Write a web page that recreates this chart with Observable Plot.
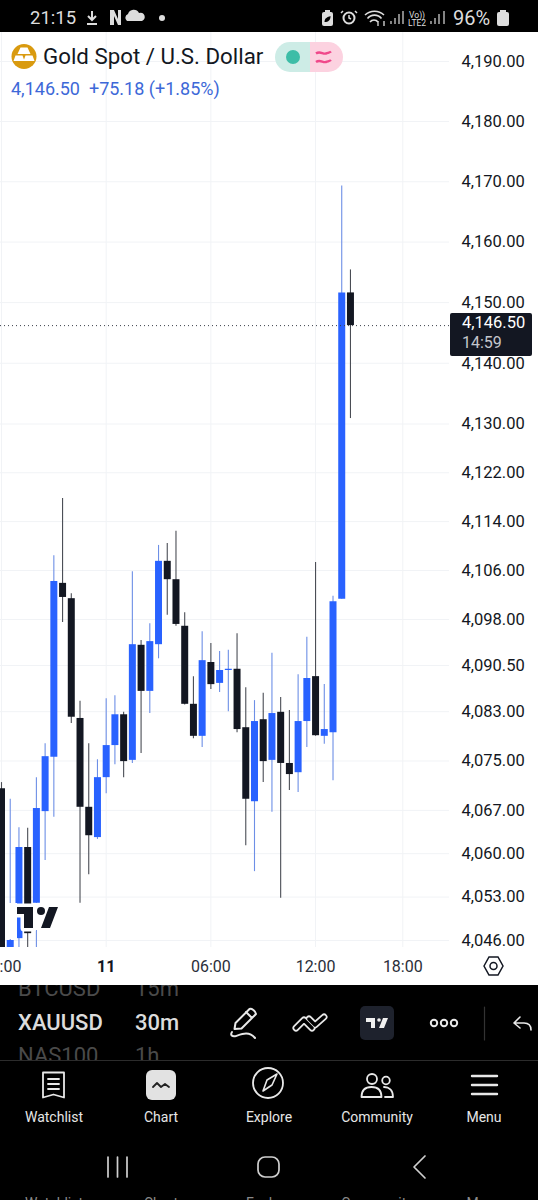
<!DOCTYPE html>
<html>
<head>
<meta charset="utf-8">
<script src="https://cdn.jsdelivr.net/npm/d3@7"></script>
<script src="https://cdn.jsdelivr.net/npm/@observablehq/plot@0.6"></script>
<style>
html,body{margin:0;padding:0;background:#fff;font-family:Roboto,sans-serif}
#page{position:relative;width:538px;height:1200px;overflow:hidden;background:#fff}
.abs{position:absolute;white-space:nowrap}
#status{left:0;top:0;width:538px;height:32px;background:#000;color:#ddd}
#footer{left:0;top:985px;width:538px;height:215px;background:#000;overflow:hidden}
#chart{position:absolute;left:0;top:32px}
#chart svg{display:block}
.nav{top:122px;transform:translateX(-50%);font-size:14px;line-height:20px;font-weight:400;color:#e6e6e6}
.ghost{top:208px;transform:translateX(-50%);font-size:14px;line-height:20px;color:#8a8a8a}
.dim{font-size:22px;line-height:26px;color:#4a4a4a}
.sel{top:25px;font-size:22px;line-height:26px;font-weight:500;color:#dcdcdc}
</style>
</head>
<body>
<div id="page">
  <div id="chart"></div>

  <div class="abs" id="status">
    <span class="abs" style="left:30px;top:7px;font-size:18.5px;line-height:22px">21:15</span>
    <span class="abs" style="left:453px;top:6px;font-size:20px;line-height:24px">96%</span>
    <svg class="abs" style="left:0;top:0" width="538" height="32" viewBox="0 0 538 32" fill="#ddd" stroke="none">
      <path d="M92 11v8M88 16l4 4 4-4M87 24h10" stroke="#ddd" stroke-width="2" fill="none"/>
      <path d="M110 10h4l4 9V10h3v15h-3l-4-9v9h-4z"/>
      <path d="M127 22a4 4 0 0 1 1-7 6 6 0 0 1 11-1 4 4 0 0 1 3 8z" transform="translate(0,-1)"/>
      <circle cx="162" cy="18" r="3"/>
      <rect x="322" y="12" width="11" height="14" rx="2"/><rect x="325" y="10" width="5" height="3"/>
      <path d="M324.500 22c0-4 3-5 6-6 0 4-2 6-6 6z" fill="#000"/>
      <circle cx="349" cy="18" r="5.500" fill="none" stroke="#ddd" stroke-width="2"/><path d="M343 11l-2 2M355 11l2 2M349 15v3l2 1" stroke="#ddd" fill="none" stroke-width="1.500"/>
      <path d="M365 15a14 14 0 0 1 19 0M367.500 18.500a9 9 0 0 1 14 0M370 22a5 5 0 0 1 8 0" fill="none" stroke="#ddd" stroke-width="1.600"/>
      <path d="M378 26v-5M384 26v-5" fill="none" stroke="#ddd" stroke-width="1.300"/>
      <path d="M391 24v-3M395 24v-6M399 24v-10M403 24v-13" stroke="#bbb" stroke-width="1.400" fill="none"/>
      <path d="M431 24v-3M435 24v-6M439 24v-10M444 24v-13" stroke="#bbb" stroke-width="1.400" fill="none"/>
      <rect x="497" y="12" width="12" height="14" rx="2"/><rect x="500" y="10" width="6" height="3"/>
    </svg>
    <span class="abs" style="left:408px;top:11px;font-size:8.500px;line-height:8px;text-align:center">Vo))<br>LTE2</span>
  </div>

  <svg class="abs" style="left:0;top:0;pointer-events:none" width="538" height="985" viewBox="0 0 538 985">
    <circle cx="24" cy="56.500" r="12.500" fill="#d99a0f"/>
    <path d="M20.500 47.500h7l3 6.500h-13zM15.500 55.500h7l2 5.500H13.500zM25.500 55.500h7l2 5.500H23.500z" fill="#fff"/>
    <path d="M290 42a15 15 0 0 0 0 30h20V42z" fill="#cdece6"/>
    <path d="M310 42h18a15 15 0 0 1 0 30h-18z" fill="#fcd2e0"/>
    <circle cx="293" cy="57" r="7" fill="#3dbda7"/>
    <path d="M316 53.500c4-3 7 1 10 0s4-1 5-2M316 62c4-3 7 1 10 0s4-1 5-2" fill="none" stroke="#f0488a" stroke-width="2.400"/>
    <!-- watermark -->
    <rect x="8" y="903" width="9" height="36" fill="#fff"/>
    <rect x="33" y="903" width="7" height="27" fill="#fff"/>
    <g stroke="#fff" stroke-width="7" stroke-linejoin="round" fill="#fff">
      <path d="M17 907H33V928H24V914H17z"/>
      <circle cx="41" cy="911" r="4"/>
      <path d="M49 907H58L50 928H41z"/>
    </g>
    <path d="M17 907H33V928H24V914H17z M49 907H58L50 928H41z" fill="#131722"/>
    <circle cx="41" cy="911" r="4" fill="#131722"/>
    <!-- settings hexagon -->
    <path d="M484 966l5-9h9l5 9-5 9h-9z" fill="none" stroke="#131722" stroke-width="1.500"/>
    <circle cx="493.500" cy="966" r="3.500" fill="none" stroke="#131722" stroke-width="1.500"/>
  </svg>

  <div class="abs" style="left:43px;top:41px;font-size:22.300px;line-height:30px;color:#131722">Gold Spot / U.S. Dollar</div>
  <div class="abs" style="left:11px;top:78px;font-size:18px;line-height:22px;color:#3d68d8">4,146.50&nbsp;&nbsp;+75.18 (+1.85%)</div>

  <div class="abs" id="tag" style="left:450px;width:82px;height:43px;background:#131722;border-radius:2px;color:#fff">
    <div class="abs" style="left:12px;top:0;font-size:16.500px;line-height:20px" id="tagPrice">4,146.50</div>
    <div class="abs" style="left:12px;top:20px;font-size:16px;line-height:20px;color:#c4c6cc">14:59</div>
  </div>

  <div class="abs" id="footer">
    <span class="abs dim" style="left:18px;top:-9px">BTCUSD</span>
    <span class="abs dim" style="left:135px;top:-9px">15m</span>
    <span class="abs sel" style="left:18px">XAUUSD</span>
    <span class="abs sel" style="left:135px">30m</span>
    <div class="abs" style="left:0;top:0;width:538px;height:75px;overflow:hidden">
      <span class="abs dim" style="left:18px;top:58px">NAS100</span>
      <span class="abs dim" style="left:135px;top:58px">1h</span>
    </div>
    <svg class="abs" style="left:0;top:0" width="538" height="215" viewBox="0 985 538 215" fill="none" stroke="#e8e8e8" stroke-width="2" stroke-linecap="round" stroke-linejoin="round">
      <path d="M0 1060.500H538" stroke="#2c2c2c" stroke-width="1.200"/>
      <path d="M234.500 1029l1-6 14-14c2-1 6 2 6.500 5l-14.500 14.500zM246 1012l6 6"/>
      <path d="M232 1032c-2 3 0 5 4 4 6-2 13-5 19 2"/>
      <g stroke-width="7" stroke-linecap="round"><path d="M296 1028l8-8 8 8M309 1019l6 6 9-8"/></g>
      <g stroke="#000" stroke-width="3.400" stroke-linecap="round"><path d="M296 1028l8-8 8 8M309 1019l6 6 9-8"/></g>
      <rect x="360" y="1006" width="34" height="34" rx="5" fill="#1e222d" stroke="none"/>
      <path d="M366 1018h9v10h-4v-6h-5zM383 1018h5l-4 10h-5z" fill="#f0f0f0" stroke="none"/><circle cx="379" cy="1020" r="1.800" fill="#f0f0f0" stroke="none"/>
      <circle cx="434" cy="1023" r="3.200"/><circle cx="444" cy="1023" r="3.200"/><circle cx="454" cy="1023" r="3.200"/>
      <path d="M484.500 1007v33" stroke="#333" stroke-width="1.200"/>
      <path d="M520 1017l-6 6h10c5 0 7 3 7 7M514 1023l6 5" stroke-width="1.600"/>

      <path d="M43 1072.500h21v25l-10.500-3-10.500 3zM48 1079h11M48 1084h11M48 1089h11" stroke-width="1.800"/>
      <rect x="146" y="1070" width="30" height="30" rx="6" fill="#e2e2e2" stroke="none"/>
      <path d="M153 1087l4-4 4 4 4-3 4 3" stroke="#222" stroke-width="1.800"/>
      <circle cx="268" cy="1083" r="15" stroke-width="1.800"/>
      <path d="M277 1074l-5 11-9 6 4-11z" stroke-width="1.600"/>
      <circle cx="372" cy="1079" r="5" stroke-width="1.800"/><circle cx="386" cy="1080.500" r="3.800" stroke-width="1.800"/>
      <path d="M361.500 1097c0-7 4-10 10-10s10 3 10 10zM384 1087c5 0 9 3 9 10h-8" stroke-width="1.800"/>
      <path d="M472 1076h25M472 1085h25M472 1094h25" stroke-width="2.400"/>

      <path d="M108 1157v20M117.500 1157v20M127 1157v20" stroke="#cfcfcf" stroke-width="1.700"/>
      <rect x="258" y="1157" width="21" height="20" rx="7" stroke="#cfcfcf" stroke-width="1.700"/>
      <path d="M425 1156l-11 11 11 11" stroke="#cfcfcf" stroke-width="1.700"/>
    </svg>
    <span class="abs nav" style="left:54px">Watchlist</span>
    <span class="abs nav" style="left:161px">Chart</span>
    <span class="abs nav" style="left:269px">Explore</span>
    <span class="abs nav" style="left:377px">Community</span>
    <span class="abs nav" style="left:484px">Menu</span>
    <span class="abs ghost" style="left:54px">Watchlist</span>
    <span class="abs ghost" style="left:161px">Chart</span>
    <span class="abs ghost" style="left:269px">Explore</span>
    <span class="abs ghost" style="left:377px">Community</span>
    <span class="abs ghost" style="left:484px">Menu</span>
  </div>
</div>

<script>
// 30-minute XAU/USD candles, oldest first
const opens = [4070.5,4044,4046.3,4061.0,4052.0,4066.8,4075.6,4103.9,4101.4,4081.9,4067.5,4062.6,4072.3,4077.5,4082.5,4075.1,4093.8,4086.3,4093.9,4107.5,4104.5,4096.9,4084.2,4079.0,4091.0,4087.6,4089.7,4089.9,4080.4,4068.4,4081.7,4075.1,4082.9,4074.6,4073.1,4081.4,4088.7,4079.0,4079.6,4101.3,4151.6];
const closes = [4043,4046.0,4061.0,4047.1,4067.3,4075.7,4104.2,4101.6,4082.1,4067.5,4062.9,4072.3,4077.5,4082.5,4074.9,4093.9,4086.3,4094.4,4107.5,4104.5,4097.2,4084.2,4079.0,4091.3,4087.4,4089.7,4089.9,4080.1,4068.8,4081.4,4074.9,4082.7,4074.6,4072.8,4081.4,4088.4,4079.1,4080.1,4100.9,4151.6,4146.2];
const highs = [4071.5,4068.8,4064.2,4064.1,4072.3,4077.8,4108.4,4117.8,4102.2,4084.7,4077.8,4075.2,4085.1,4085.6,4082.9,4105.8,4094.6,4097.3,4110.1,4110.4,4112.4,4099.1,4088.7,4096.0,4094.1,4092.8,4093.0,4095.7,4086.9,4084.8,4086.0,4092.5,4085.3,4083.2,4089.0,4095.1,4107.3,4087.4,4101.8,4169.3,4155.4];
const lows = [4042.5,4043,4044,4044,4044,4058.9,4065.9,4097.5,4081.1,4052.0,4056.6,4062.3,4069.7,4074.4,4072.3,4074.6,4076.2,4082.7,4091.6,4098.7,4096.9,4084.1,4078.6,4077.2,4086.6,4086.1,4083.0,4079.6,4061.3,4057.1,4071.5,4066.7,4052.8,4070.2,4069.9,4077.2,4079.0,4077.7,4071.8,4101.3,4130.9];

const priceTicks = [4190,4180,4170,4160,4150,4140,4130,4122,4114,4106,4098,4090.5,4083,4075,4067,4060,4053,4046];
const timeTicks = [0,12,24,36,46];
const timeLabels = ["18:00","11","06:00","12:00","18:00"];
const lastClose = 4146.2;

const upColor = "#2962ff";
const downColor = "#131722";
const upWick = "#6d8fe6";
const downWick = "#4a4d55";
const gridColor = "#f1f3f6";

const candles = opens.map((o, i) => ({i, open: o, close: closes[i], high: highs[i], low: lows[i], up: closes[i] >= o}));

const labelFor = d => timeLabels[timeTicks.indexOf(d)];

const plot = Plot.plot({
  width: 538,
  height: 953,
  marginTop: 0,
  marginLeft: 0,
  marginRight: 89,
  marginBottom: 38,
  style: {fontFamily: "Roboto, sans-serif", background: "transparent", color: "#131722"},
  x: {type: "linear", domain: [0, 46], range: [1, 402.3]},
  y: {type: "log", domain: [4046, 4190], range: [908, 29]},
  marks: [
    Plot.ruleY(priceTicks, {stroke: gridColor, strokeWidth: 1}),
    Plot.ruleX(timeTicks, {stroke: gridColor, strokeWidth: 1}),
    Plot.ruleX(candles, {x: "i", y1: "low", y2: "high", stroke: d => d.up ? upWick : downWick, strokeWidth: 1.1, clip: "frame"}),
    Plot.ruleX(candles, {x: "i", y1: "open", y2: "close", stroke: d => d.up ? upColor : downColor, strokeWidth: 7, clip: "frame"}),
    Plot.ruleY([lastClose], {stroke: "#3a3e48", strokeWidth: 1, strokeDasharray: "1,3"}),
    Plot.axisY(priceTicks, {anchor: "right", tickSize: 0, tickPadding: 12, fontSize: 16.5, label: null, fill: "#131722", tickFormat: d3.format(",.2f")}),
    Plot.axisX(timeTicks.filter(d => labelFor(d) !== "11"), {anchor: "bottom", tickSize: 0, tickPadding: 13, fontSize: 16, label: null, fill: "#2a2e39", tickFormat: labelFor}),
    Plot.axisX(timeTicks.filter(d => labelFor(d) === "11"), {anchor: "bottom", tickSize: 0, tickPadding: 13, fontSize: 16, fontWeight: "bold", label: null, fill: "#131722", tickFormat: labelFor})
  ]
});
document.getElementById("chart").appendChild(plot);

const tag = document.getElementById("tag");
tag.style.top = (32 + plot.scale("y").apply(lastClose) - 12) + "px";
</script>
</body>
</html>
